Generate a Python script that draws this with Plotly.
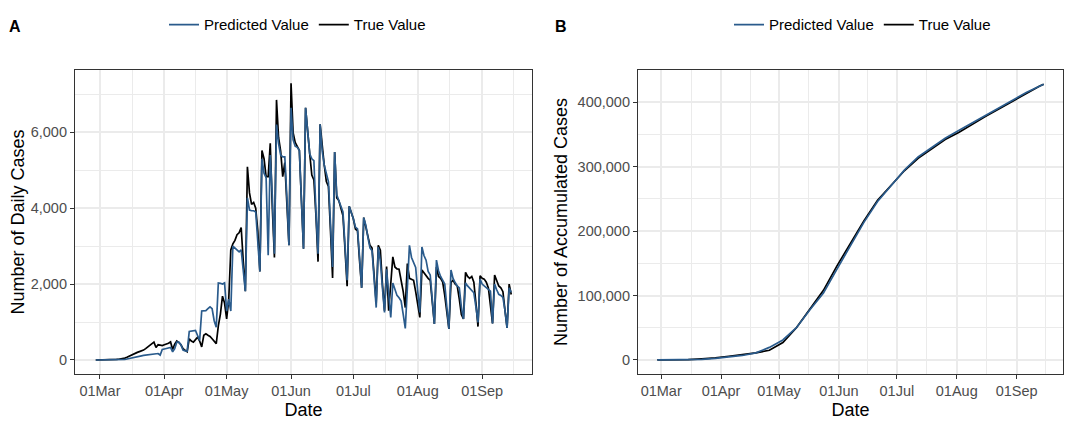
import pandas as pd
import plotly.graph_objects as go
from plotly.subplots import make_subplots

# ---------------------------------------------------------------------------
# Data
# ---------------------------------------------------------------------------

# daily values, 2020-02-28 .. 2020-09-15
daily_true = [
    0, 0, 0, 1, 2, 3, 5, 7, 9, 12, 15, 20, 25, 35, 50, 70,
    100, 125, 150, 175, 200, 220, 233, 260, 300, 345, 400, 450, 470, 330,
    400, 390, 380, 400, 415, 440, 475, 275, 420, 500, 460, 400, 300, 260,
    215, 560, 500, 470, 540, 600, 500, 345,
    650, 690, 650, 620, 560, 480, 430,
    900, 1210, 1680, 1500, 1080, 1580, 2900,
    3060, 3150, 3300, 3350, 3490, 2600, 1810,
    5090, 4400, 4100, 4150, 4000, 3400, 2330,
    5520, 5300, 4830, 4830, 5710, 4000, 2700,
    6850, 5860, 5500, 4830, 5200, 4200, 3020,
    7290, 5990, 5730, 5600, 5520, 4200, 2930,
    6640, 5905, 5430, 4870, 4740, 3800, 2590,
    6210, 5600, 5130, 4700, 4570, 3400, 2160,
    5475, 4270, 4200, 4000, 3795, 2900, 1940,
    4050, 3900, 3720, 3450, 3400, 2600, 1900,
    3750, 3500, 3230, 3020, 2950, 2200, 1500,
    3020, 2890, 2000, 1300, 2460, 1300, 2000,
    2715, 2450, 2400, 2390, 2130, 1800, 1380,
    2540, 2150, 2120, 2100, 1800, 1400, 1120,
    2370, 2300, 2200, 2150, 2100, 1500, 950,
    2450, 2200, 2150, 2050, 1700, 1200, 820,
    2040, 2100, 2000, 1950, 1600, 1200, 1080,
    2310, 2200, 2150, 2200, 2050, 1500, 880,
    2220, 2150, 2130, 2050, 1900, 1400, 965,
    2240, 2100, 1950, 1900, 1800, 1300, 845,
    2000, 1725,
]

daily_pred = [
    0, 0, 0, 0, 0, 1, 1, 2, 3, 4, 5, 6, 8, 10, 15, 25,
    40, 55, 70, 80, 90, 100, 110, 120, 130, 140, 150, 160, 170, 170,
    170, 130, 275, 290, 300, 320, 330, 215, 300, 470, 470, 400, 260, 240,
    233, 750, 760, 770, 780, 645, 515, 1290,
    1290, 1300, 1350, 1400, 1350, 1035, 860,
    2030, 2020, 2000, 2030, 1290, 1600, 1290,
    3000, 2950, 2900, 2850, 2900, 2300, 1810,
    4270, 3950, 3930, 3930, 3900, 3000, 2330,
    5300, 4920, 4800, 2760, 5400, 4300, 2800,
    6200, 5700, 5400, 5350, 5350, 4300, 3020,
    6640, 5800, 5630, 5600, 5520, 4200, 2930,
    6640, 5905, 5430, 5300, 5250, 3900, 2800,
    6210, 5500, 5130, 4870, 4700, 3600, 2450,
    5475, 4350, 4200, 4050, 3900, 3000, 2100,
    4050, 3900, 3720, 3500, 3450, 2700, 1900,
    3750, 3550, 3230, 2950, 2880, 2100, 1380,
    2975, 2600, 1900, 1250, 2390, 1700, 1120,
    2025, 1850, 1700, 1640, 1550, 1200, 830,
    1900, 3020, 2700, 2570, 2440, 1800, 1250,
    2975, 2750, 2630, 2330, 2240, 1500, 950,
    2630, 2350, 2200, 2110, 2000, 1400, 820,
    2370, 2150, 2040, 1950, 1900, 1400, 1080,
    2030, 1950, 1880, 1820, 1770, 1400, 990,
    2130, 2000, 1950, 1900, 1850, 1815, 965,
    2000, 1850, 1730, 1700, 1650, 1300, 845,
    1900, 1780,
]

acc_dates = [
    "2020-02-28", "2020-03-08", "2020-03-15", "2020-03-22", "2020-03-29",
    "2020-04-05", "2020-04-12", "2020-04-19", "2020-04-26", "2020-05-03",
    "2020-05-10", "2020-05-17", "2020-05-24", "2020-05-31", "2020-06-07",
    "2020-06-14", "2020-06-21", "2020-06-28", "2020-07-05", "2020-07-12",
    "2020-07-19", "2020-07-26", "2020-08-02", "2020-08-09", "2020-08-16",
    "2020-08-23", "2020-08-30", "2020-09-06", "2020-09-13", "2020-09-15",
]
acc_true = [
    0, 80, 400, 1800, 3200, 5800, 8300, 11000, 15000, 27000,
    50000, 79000, 108000, 146000, 181000, 216000, 248000, 271000, 294000, 313000,
    328000, 342000, 353000, 366000, 378000, 390000, 402000, 414000, 425000, 428000,
]
acc_pred = [
    0, 40, 200, 1000, 2500, 4500, 7000, 11000, 19500, 31000,
    50000, 78000, 104000, 141000, 178000, 214000, 246000, 271000, 295000, 315000,
    329000, 344000, 356000, 368000, 380000, 392000, 404000, 415000, 425000, 428000,
]

month_ticks = ["2020-03-01", "2020-04-01", "2020-05-01", "2020-06-01",
               "2020-07-01", "2020-08-01", "2020-09-01"]
minor_ticks = ["2020-03-16 12:00", "2020-04-16", "2020-05-16 12:00", "2020-06-16",
               "2020-07-16 12:00", "2020-08-16 12:00", "2020-09-16"]

dates = pd.date_range("2020-02-28", periods=len(daily_true), freq="D")

BLUE = "#2A5B8C"
BLACK = "#000000"
GRID = "#EBEBEB"
FONT = "Liberation Sans, Arial, sans-serif"

# page body keeps an 8px margin, so the figure is sized to the visible area
W, H = 1076, 418


def px_x(x):
    return (x - 8) / W


def px_y(y):
    return 1 - (y - 8) / H


# ---------------------------------------------------------------------------
# Figure
# ---------------------------------------------------------------------------

fig = make_subplots(rows=1, cols=2)

fig.add_trace(go.Scatter(x=dates, y=daily_true, mode="lines", name="True Value",
                         line=dict(color=BLACK, width=1.7), legend="legend",
                         legendrank=2), row=1, col=1)
fig.add_trace(go.Scatter(x=dates, y=daily_pred, mode="lines", name="Predicted Value",
                         line=dict(color=BLUE, width=1.7), legend="legend",
                         legendrank=1), row=1, col=1)
fig.add_trace(go.Scatter(x=acc_dates, y=acc_true, mode="lines", name="True Value",
                         line=dict(color=BLACK, width=1.7), legend="legend2",
                         legendrank=2), row=1, col=2)
fig.add_trace(go.Scatter(x=acc_dates, y=acc_pred, mode="lines", name="Predicted Value",
                         line=dict(color=BLUE, width=1.7), legend="legend2",
                         legendrank=1), row=1, col=2)

axis_common = dict(
    showline=True, linecolor="#333333", linewidth=1.2, mirror=True,
    showgrid=True, gridcolor=GRID, gridwidth=1.6,
    ticks="outside", ticklen=4, tickcolor="#333333", tickwidth=1.1,
    tickfont=dict(family=FONT, size=14.5, color="#4D4D4D"),
    zeroline=False, automargin=False,
)
minor_common = dict(showgrid=True, gridcolor=GRID, gridwidth=0.9, ticks="")
y_dom = [px_y(373), px_y(65)]

for i, dom in ((1, [px_x(75), px_x(532)]), (2, [px_x(638), px_x(1063)])):
    fig.update_xaxes(
        axis_common, row=1, col=i, domain=dom,
        range=["2020-02-18", "2020-09-25"],
        tickvals=month_ticks, tickformat="%d%b",
        minor=dict(minor_common, tickvals=minor_ticks),
        title=dict(text="Date", font=dict(family=FONT, size=18, color="#000000"),
                   standoff=5),
    )

fig.update_yaxes(
    axis_common, row=1, col=1, domain=y_dom,
    range=[-363, 7633], tickvals=[0, 2000, 4000, 6000], tickformat=",d",
    minor=dict(minor_common, tickvals=[1000, 3000, 5000, 7000]),
    title=dict(text="Number of Daily Cases",
               font=dict(family=FONT, size=18, color="#000000"), standoff=5),
)
fig.update_yaxes(
    axis_common, row=1, col=2, domain=y_dom,
    range=[-21400, 449700], tickvals=[0, 100000, 200000, 300000, 400000],
    tickformat=",d",
    minor=dict(minor_common, tickvals=[50000, 150000, 250000, 350000]),
    title=dict(text="Number of Accumulated Cases",
               font=dict(family=FONT, size=18, color="#000000"), standoff=5),
)

legend_common = dict(
    orientation="h", yanchor="middle", xanchor="left", y=px_y(19),
    font=dict(family=FONT, size=15, color="#000000"),
    bgcolor="rgba(0,0,0,0)", itemwidth=30, traceorder="normal",
)

fig.update_layout(
    width=W, height=H,
    margin=dict(l=0, r=0, t=0, b=0),
    paper_bgcolor="white", plot_bgcolor="white",
    showlegend=True,
    legend=dict(legend_common, x=px_x(164)),
    legend2=dict(legend_common, x=px_x(729)),
    annotations=[
        dict(text="<b>A</b>", x=px_x(15), y=px_y(21), xref="paper", yref="paper",
             xanchor="center", yanchor="middle", showarrow=False,
             font=dict(family=FONT, size=16, color="#000000")),
        dict(text="<b>B</b>", x=px_x(561), y=px_y(21), xref="paper", yref="paper",
             xanchor="center", yanchor="middle", showarrow=False,
             font=dict(family=FONT, size=16, color="#000000")),
    ],
)

fig.write_html("out.html")
